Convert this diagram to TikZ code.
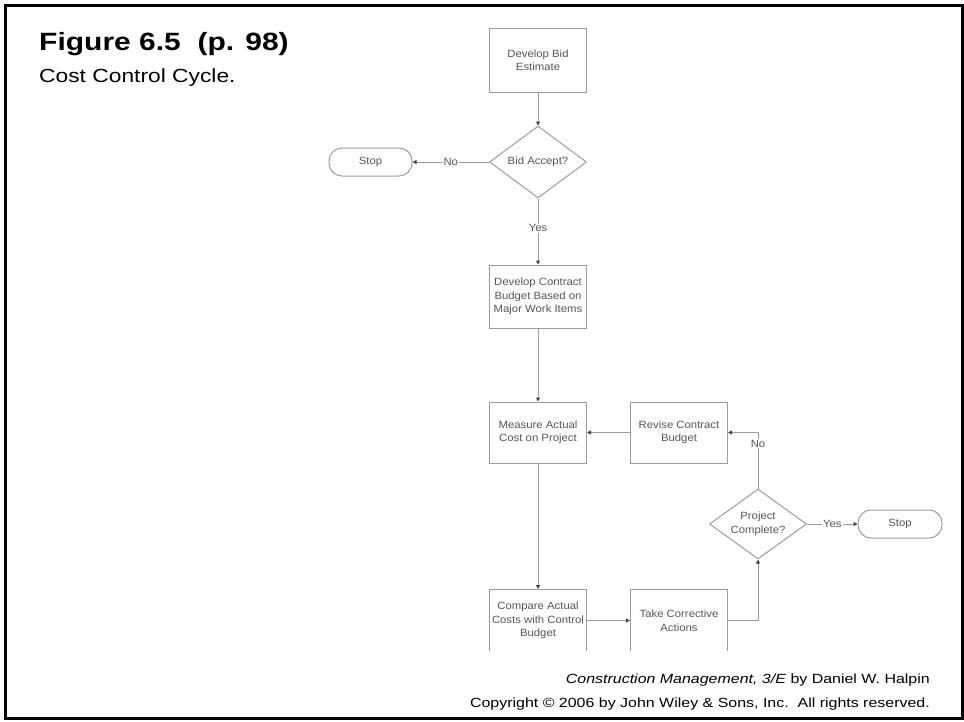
\documentclass[tikz,border=0pt]{standalone}
\usepackage{fontspec}
\setmainfont{Liberation Sans}[FakeStretch=1.2]
\newfontfamily\flowfont{Liberation Sans}[FakeStretch=1.08]
\usetikzlibrary{arrows.meta,shapes.geometric}
\definecolor{linegray}{HTML}{9C9C9C}
\definecolor{textgray}{HTML}{555555}
\definecolor{tipgray}{HTML}{444444}
\begin{document}
\begin{tikzpicture}[x=1pt,y=-1pt,
  flowtext/.style={font=\flowfont\fontsize{10.5}{13.5}\selectfont, text=textgray, align=center},
  box/.style={flowtext, draw=linegray, line width=1pt, minimum width=97pt, minimum height=62pt, inner sep=2pt},
  decision/.style={flowtext, diamond, aspect=1.35, draw=linegray, line width=1pt, inner sep=0pt, minimum width=97pt, minimum height=72pt},
  terminal/.style={flowtext, draw=linegray, line width=1pt, rounded corners=13pt, minimum width=84pt, minimum height=28pt, inner sep=2pt},
  conn/.style={draw=linegray, line width=1pt, -{Triangle[length=4pt,width=4pt,color=tipgray]}},
  lbl/.style={flowtext, fill=white, inner sep=1pt},
  frame/.style={draw=black, line width=3pt}
]
\useasboundingbox (0,0) rectangle (964,721);
\draw[frame] (5.5,5) rectangle (962.5,718.5);

% title
\node[anchor=base west, inner sep=0pt, font=\bfseries\fontsize{25}{30}\selectfont] (title) at (39,50) {Figure 6.5\ \ (p. 98)};
\node[anchor=base west, inner sep=0pt, font=\fontsize{19}{23}\selectfont] (subtitle) at (39,82) {Cost Control Cycle.};

% footer
\node[anchor=base east, inner sep=0pt, font=\fontsize{13.3}{16}\selectfont] (foot1) at (930,683) {\textit{Construction Management, 3/E} by Daniel W. Halpin};
\node[anchor=base east, inner sep=0pt, font=\fontsize{13.3}{16}\selectfont] (foot2) at (930,707.5) {Copyright \textcopyright\ 2006 by John Wiley \& Sons, Inc.\ \ All rights reserved.};

% flowchart nodes
\node[box, minimum height=64pt] (bid) at (538,60) {Develop Bid\\Estimate};
\node[decision] (acc) at (538,162) {Bid Accept?};
\node[terminal, minimum width=83pt] (stop1) at (370.5,162) {Stop};
\node[box, minimum height=63pt] (budget) at (538,296.5) {Develop Contract\\Budget Based on\\Major Work Items};
\node[box, minimum height=61pt] (meas) at (538,432.5) {Measure Actual\\Cost on Project};
\node[box, minimum height=61pt] (rev) at (679,432.5) {Revise Contract\\Budget};
\node[decision, minimum height=70pt] (proj) at (758,524) {Project\\Complete?};
\node[terminal] (stop2) at (900,524) {Stop};
\begin{scope}
  \clip (0,0) rectangle (964,650.5);
  \node[box, minimum height=62pt] (comp) at (538,620.5) {Compare Actual\\Costs with Control\\Budget};
  \node[box, minimum height=62pt] (take) at (679,620.5) {Take Corrective\\Actions};
\end{scope}

% connectors
\draw[conn] (bid.south) -- (acc.north);
\draw[conn] (acc.west) -- node[lbl] {No} (stop1.east);
\draw[conn] (acc.south) -- node[lbl, pos=0.45] {Yes} (budget.north);
\draw[conn] (budget.south) -- (meas.north);
\draw[conn] (rev.west) -- (meas.east);
\draw[conn] (proj.north) |- node[lbl, pos=0.4] {No} (rev.east);
\draw[conn] (meas.south) -- (comp.north);
\draw[conn] (comp.east) -- (take.west);
\draw[conn] (take.east) -| (proj.south);
\draw[conn] (proj.east) -- node[lbl] {Yes} (stop2.west);
\end{tikzpicture}
\end{document}
